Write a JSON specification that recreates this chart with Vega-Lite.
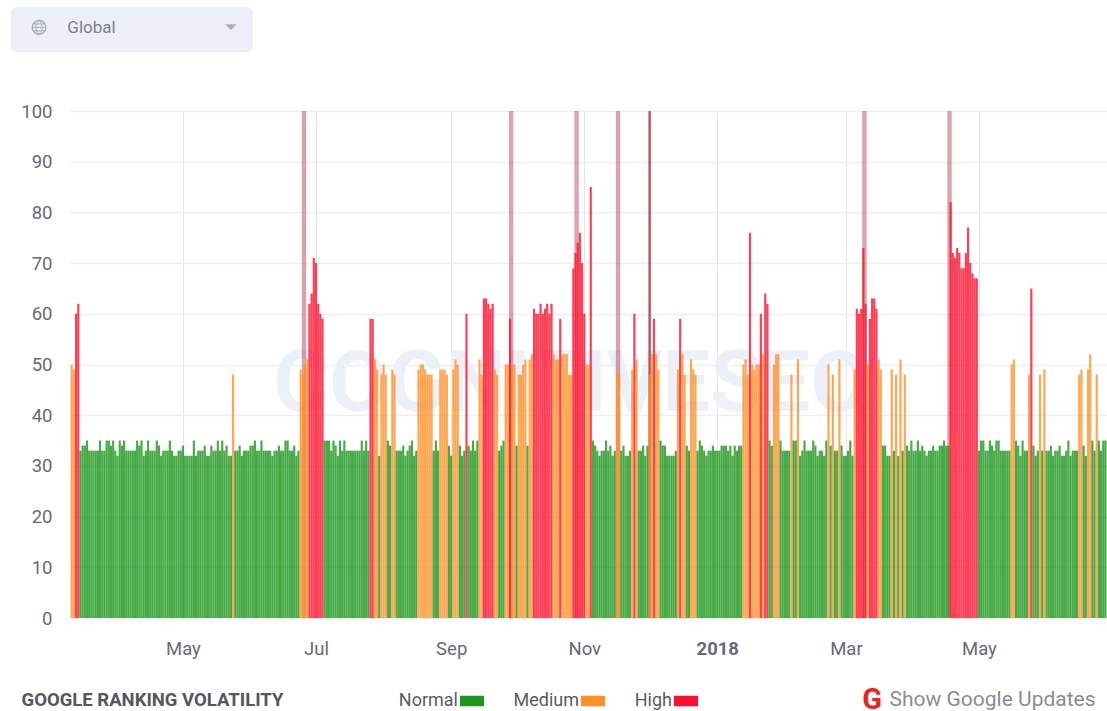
{"$schema":"https://vega.github.io/schema/vega-lite/v6.json","autosize":"none","padding":{"left":70,"top":111,"right":0,"bottom":93},"width":1037,"height":507,"background":"white",
"config":{"view":{"stroke":null},"font":"Roboto"},
"datasets":{
"updates":[{"d":"2017-06-25","v":100},{"d":"2017-06-26","v":100},{"d":"2017-09-28","v":100},{"d":"2017-09-29","v":100},{"d":"2017-10-28","v":100},{"d":"2017-10-29","v":100},{"d":"2017-11-16","v":100},{"d":"2017-11-17","v":100},{"d":"2017-12-01","v":100},{"d":"2017-12-01","v":100},{"d":"2017-12-01","v":100},{"d":"2018-03-09","v":100},{"d":"2018-03-10","v":100},{"d":"2018-04-17","v":100},{"d":"2018-04-18","v":100}],
"days":[
{"d":"2017-03-11","v":50,"l":"Medium"},{"d":"2017-03-12","v":49,"l":"Medium"},{"d":"2017-03-13","v":60,"l":"High"},{"d":"2017-03-14","v":62,"l":"High"},{"d":"2017-03-15","v":33,"l":"Normal"},{"d":"2017-03-16","v":34,"l":"Normal"},{"d":"2017-03-17","v":34,"l":"Normal"},{"d":"2017-03-18","v":35,"l":"Normal"},{"d":"2017-03-19","v":33,"l":"Normal"},{"d":"2017-03-20","v":33,"l":"Normal"},{"d":"2017-03-21","v":33,"l":"Normal"},{"d":"2017-03-22","v":33,"l":"Normal"},{"d":"2017-03-23","v":33,"l":"Normal"},{"d":"2017-03-24","v":35,"l":"Normal"},{"d":"2017-03-25","v":33,"l":"Normal"},{"d":"2017-03-26","v":33,"l":"Normal"},{"d":"2017-03-27","v":35,"l":"Normal"},{"d":"2017-03-28","v":35,"l":"Normal"},{"d":"2017-03-29","v":34,"l":"Normal"},{"d":"2017-03-30","v":35,"l":"Normal"},{"d":"2017-03-31","v":33,"l":"Normal"},
{"d":"2017-04-01","v":32,"l":"Normal"},{"d":"2017-04-02","v":35,"l":"Normal"},{"d":"2017-04-03","v":34,"l":"Normal"},{"d":"2017-04-04","v":35,"l":"Normal"},{"d":"2017-04-05","v":33,"l":"Normal"},{"d":"2017-04-06","v":33,"l":"Normal"},{"d":"2017-04-07","v":33,"l":"Normal"},{"d":"2017-04-08","v":33,"l":"Normal"},{"d":"2017-04-09","v":33,"l":"Normal"},{"d":"2017-04-10","v":35,"l":"Normal"},{"d":"2017-04-11","v":34,"l":"Normal"},{"d":"2017-04-12","v":35,"l":"Normal"},{"d":"2017-04-13","v":32,"l":"Normal"},{"d":"2017-04-14","v":33,"l":"Normal"},{"d":"2017-04-15","v":35,"l":"Normal"},{"d":"2017-04-16","v":33,"l":"Normal"},{"d":"2017-04-17","v":33,"l":"Normal"},{"d":"2017-04-18","v":33,"l":"Normal"},{"d":"2017-04-19","v":35,"l":"Normal"},{"d":"2017-04-20","v":34,"l":"Normal"},{"d":"2017-04-21","v":32,"l":"Normal"},{"d":"2017-04-22","v":33,"l":"Normal"},{"d":"2017-04-23","v":33,"l":"Normal"},{"d":"2017-04-24","v":33,"l":"Normal"},{"d":"2017-04-25","v":35,"l":"Normal"},{"d":"2017-04-26","v":33,"l":"Normal"},{"d":"2017-04-27","v":32,"l":"Normal"},{"d":"2017-04-28","v":32,"l":"Normal"},{"d":"2017-04-29","v":33,"l":"Normal"},{"d":"2017-04-30","v":33,"l":"Normal"},
{"d":"2017-05-01","v":34,"l":"Normal"},{"d":"2017-05-02","v":32,"l":"Normal"},{"d":"2017-05-03","v":32,"l":"Normal"},{"d":"2017-05-04","v":32,"l":"Normal"},{"d":"2017-05-05","v":32,"l":"Normal"},{"d":"2017-05-06","v":35,"l":"Normal"},{"d":"2017-05-07","v":32,"l":"Normal"},{"d":"2017-05-08","v":33,"l":"Normal"},{"d":"2017-05-09","v":33,"l":"Normal"},{"d":"2017-05-10","v":33,"l":"Normal"},{"d":"2017-05-11","v":34,"l":"Normal"},{"d":"2017-05-12","v":32,"l":"Normal"},{"d":"2017-05-13","v":32,"l":"Normal"},{"d":"2017-05-14","v":34,"l":"Normal"},{"d":"2017-05-15","v":33,"l":"Normal"},{"d":"2017-05-16","v":33,"l":"Normal"},{"d":"2017-05-17","v":35,"l":"Normal"},{"d":"2017-05-18","v":33,"l":"Normal"},{"d":"2017-05-19","v":35,"l":"Normal"},{"d":"2017-05-20","v":33,"l":"Normal"},{"d":"2017-05-21","v":34,"l":"Normal"},{"d":"2017-05-22","v":32,"l":"Normal"},{"d":"2017-05-23","v":32,"l":"Normal"},{"d":"2017-05-24","v":48,"l":"Medium"},{"d":"2017-05-25","v":33,"l":"Normal"},{"d":"2017-05-26","v":33,"l":"Normal"},{"d":"2017-05-27","v":34,"l":"Normal"},{"d":"2017-05-28","v":32,"l":"Normal"},{"d":"2017-05-29","v":33,"l":"Normal"},{"d":"2017-05-30","v":33,"l":"Normal"},{"d":"2017-05-31","v":33,"l":"Normal"},
{"d":"2017-06-01","v":34,"l":"Normal"},{"d":"2017-06-02","v":34,"l":"Normal"},{"d":"2017-06-03","v":35,"l":"Normal"},{"d":"2017-06-04","v":33,"l":"Normal"},{"d":"2017-06-05","v":33,"l":"Normal"},{"d":"2017-06-06","v":35,"l":"Normal"},{"d":"2017-06-07","v":33,"l":"Normal"},{"d":"2017-06-08","v":33,"l":"Normal"},{"d":"2017-06-09","v":33,"l":"Normal"},{"d":"2017-06-10","v":33,"l":"Normal"},{"d":"2017-06-11","v":32,"l":"Normal"},{"d":"2017-06-12","v":33,"l":"Normal"},{"d":"2017-06-13","v":33,"l":"Normal"},{"d":"2017-06-14","v":34,"l":"Normal"},{"d":"2017-06-15","v":33,"l":"Normal"},{"d":"2017-06-16","v":33,"l":"Normal"},{"d":"2017-06-17","v":35,"l":"Normal"},{"d":"2017-06-18","v":35,"l":"Normal"},{"d":"2017-06-19","v":33,"l":"Normal"},{"d":"2017-06-20","v":33,"l":"Normal"},{"d":"2017-06-21","v":34,"l":"Normal"},{"d":"2017-06-22","v":32,"l":"Normal"},{"d":"2017-06-23","v":33,"l":"Normal"},{"d":"2017-06-24","v":49,"l":"Medium"},{"d":"2017-06-25","v":48,"l":"Medium"},{"d":"2017-06-26","v":50,"l":"Medium"},{"d":"2017-06-27","v":51,"l":"Medium"},{"d":"2017-06-28","v":62,"l":"High"},{"d":"2017-06-29","v":64,"l":"High"},{"d":"2017-06-30","v":71,"l":"High"},
{"d":"2017-07-01","v":70,"l":"High"},{"d":"2017-07-02","v":62,"l":"High"},{"d":"2017-07-03","v":60,"l":"High"},{"d":"2017-07-04","v":59,"l":"High"},{"d":"2017-07-05","v":35,"l":"Normal"},{"d":"2017-07-06","v":35,"l":"Normal"},{"d":"2017-07-07","v":35,"l":"Normal"},{"d":"2017-07-08","v":33,"l":"Normal"},{"d":"2017-07-09","v":35,"l":"Normal"},{"d":"2017-07-10","v":34,"l":"Normal"},{"d":"2017-07-11","v":32,"l":"Normal"},{"d":"2017-07-12","v":35,"l":"Normal"},{"d":"2017-07-13","v":33,"l":"Normal"},{"d":"2017-07-14","v":35,"l":"Normal"},{"d":"2017-07-15","v":33,"l":"Normal"},{"d":"2017-07-16","v":33,"l":"Normal"},{"d":"2017-07-17","v":33,"l":"Normal"},{"d":"2017-07-18","v":33,"l":"Normal"},{"d":"2017-07-19","v":33,"l":"Normal"},{"d":"2017-07-20","v":33,"l":"Normal"},{"d":"2017-07-21","v":33,"l":"Normal"},{"d":"2017-07-22","v":35,"l":"Normal"},{"d":"2017-07-23","v":33,"l":"Normal"},{"d":"2017-07-24","v":35,"l":"Normal"},{"d":"2017-07-25","v":33,"l":"Normal"},{"d":"2017-07-26","v":59,"l":"High"},{"d":"2017-07-27","v":59,"l":"High"},{"d":"2017-07-28","v":51,"l":"Medium"},{"d":"2017-07-29","v":49,"l":"Medium"},{"d":"2017-07-30","v":32,"l":"Normal"},{"d":"2017-07-31","v":48,"l":"Medium"},
{"d":"2017-08-01","v":50,"l":"Medium"},{"d":"2017-08-02","v":48,"l":"Medium"},{"d":"2017-08-03","v":35,"l":"Normal"},{"d":"2017-08-04","v":34,"l":"Normal"},{"d":"2017-08-05","v":49,"l":"Medium"},{"d":"2017-08-06","v":48,"l":"Medium"},{"d":"2017-08-07","v":33,"l":"Normal"},{"d":"2017-08-08","v":33,"l":"Normal"},{"d":"2017-08-09","v":33,"l":"Normal"},{"d":"2017-08-10","v":34,"l":"Normal"},{"d":"2017-08-11","v":32,"l":"Normal"},{"d":"2017-08-12","v":33,"l":"Normal"},{"d":"2017-08-13","v":34,"l":"Normal"},{"d":"2017-08-14","v":35,"l":"Normal"},{"d":"2017-08-15","v":32,"l":"Normal"},{"d":"2017-08-16","v":33,"l":"Normal"},{"d":"2017-08-17","v":49,"l":"Medium"},{"d":"2017-08-18","v":50,"l":"Medium"},{"d":"2017-08-19","v":50,"l":"Medium"},{"d":"2017-08-20","v":49,"l":"Medium"},{"d":"2017-08-21","v":48,"l":"Medium"},{"d":"2017-08-22","v":48,"l":"Medium"},{"d":"2017-08-23","v":48,"l":"Medium"},{"d":"2017-08-24","v":33,"l":"Normal"},{"d":"2017-08-25","v":35,"l":"Normal"},{"d":"2017-08-26","v":33,"l":"Normal"},{"d":"2017-08-27","v":49,"l":"Medium"},{"d":"2017-08-28","v":49,"l":"Medium"},{"d":"2017-08-29","v":49,"l":"Medium"},{"d":"2017-08-30","v":48,"l":"Medium"},{"d":"2017-08-31","v":34,"l":"Normal"},
{"d":"2017-09-01","v":32,"l":"Normal"},{"d":"2017-09-02","v":49,"l":"Medium"},{"d":"2017-09-03","v":51,"l":"Medium"},{"d":"2017-09-04","v":50,"l":"Medium"},{"d":"2017-09-05","v":34,"l":"Normal"},{"d":"2017-09-06","v":32,"l":"Normal"},{"d":"2017-09-07","v":33,"l":"Normal"},{"d":"2017-09-08","v":60,"l":"High"},{"d":"2017-09-09","v":34,"l":"Normal"},{"d":"2017-09-10","v":33,"l":"Normal"},{"d":"2017-09-11","v":35,"l":"Normal"},{"d":"2017-09-12","v":33,"l":"Normal"},{"d":"2017-09-13","v":35,"l":"Normal"},{"d":"2017-09-14","v":51,"l":"Medium"},{"d":"2017-09-15","v":48,"l":"Medium"},{"d":"2017-09-16","v":63,"l":"High"},{"d":"2017-09-17","v":63,"l":"High"},{"d":"2017-09-18","v":62,"l":"High"},{"d":"2017-09-19","v":61,"l":"High"},{"d":"2017-09-20","v":62,"l":"High"},{"d":"2017-09-21","v":49,"l":"Medium"},{"d":"2017-09-22","v":48,"l":"Medium"},{"d":"2017-09-23","v":33,"l":"Normal"},{"d":"2017-09-24","v":34,"l":"Normal"},{"d":"2017-09-25","v":35,"l":"Normal"},{"d":"2017-09-26","v":50,"l":"Medium"},{"d":"2017-09-27","v":50,"l":"Medium"},{"d":"2017-09-28","v":59,"l":"High"},{"d":"2017-09-29","v":50,"l":"Medium"},{"d":"2017-09-30","v":50,"l":"Medium"},
{"d":"2017-10-01","v":34,"l":"Normal"},{"d":"2017-10-02","v":48,"l":"Medium"},{"d":"2017-10-03","v":48,"l":"Medium"},{"d":"2017-10-04","v":50,"l":"Medium"},{"d":"2017-10-05","v":51,"l":"Medium"},{"d":"2017-10-06","v":34,"l":"Normal"},{"d":"2017-10-07","v":51,"l":"Medium"},{"d":"2017-10-08","v":52,"l":"Medium"},{"d":"2017-10-09","v":61,"l":"High"},{"d":"2017-10-10","v":60,"l":"High"},{"d":"2017-10-11","v":60,"l":"High"},{"d":"2017-10-12","v":62,"l":"High"},{"d":"2017-10-13","v":60,"l":"High"},{"d":"2017-10-14","v":61,"l":"High"},{"d":"2017-10-15","v":62,"l":"High"},{"d":"2017-10-16","v":60,"l":"High"},{"d":"2017-10-17","v":62,"l":"High"},{"d":"2017-10-18","v":52,"l":"Medium"},{"d":"2017-10-19","v":51,"l":"Medium"},{"d":"2017-10-20","v":51,"l":"Medium"},{"d":"2017-10-21","v":59,"l":"High"},{"d":"2017-10-22","v":52,"l":"Medium"},{"d":"2017-10-23","v":52,"l":"Medium"},{"d":"2017-10-24","v":52,"l":"Medium"},{"d":"2017-10-25","v":48,"l":"Medium"},{"d":"2017-10-26","v":48,"l":"Medium"},{"d":"2017-10-27","v":69,"l":"High"},{"d":"2017-10-28","v":72,"l":"High"},{"d":"2017-10-29","v":74,"l":"High"},{"d":"2017-10-30","v":76,"l":"High"},{"d":"2017-10-31","v":70,"l":"High"},
{"d":"2017-11-01","v":60,"l":"High"},{"d":"2017-11-02","v":50,"l":"Medium"},{"d":"2017-11-03","v":50,"l":"Medium"},{"d":"2017-11-04","v":85,"l":"High"},{"d":"2017-11-05","v":35,"l":"Normal"},{"d":"2017-11-06","v":34,"l":"Normal"},{"d":"2017-11-07","v":33,"l":"Normal"},{"d":"2017-11-08","v":32,"l":"Normal"},{"d":"2017-11-09","v":33,"l":"Normal"},{"d":"2017-11-10","v":33,"l":"Normal"},{"d":"2017-11-11","v":35,"l":"Normal"},{"d":"2017-11-12","v":33,"l":"Normal"},{"d":"2017-11-13","v":34,"l":"Normal"},{"d":"2017-11-14","v":32,"l":"Normal"},{"d":"2017-11-15","v":33,"l":"Normal"},{"d":"2017-11-16","v":48,"l":"Medium"},{"d":"2017-11-17","v":48,"l":"Medium"},{"d":"2017-11-18","v":33,"l":"Normal"},{"d":"2017-11-19","v":34,"l":"Normal"},{"d":"2017-11-20","v":32,"l":"Normal"},{"d":"2017-11-21","v":32,"l":"Normal"},{"d":"2017-11-22","v":33,"l":"Normal"},{"d":"2017-11-23","v":49,"l":"Medium"},{"d":"2017-11-24","v":60,"l":"High"},{"d":"2017-11-25","v":51,"l":"Medium"},{"d":"2017-11-26","v":33,"l":"Normal"},{"d":"2017-11-27","v":33,"l":"Normal"},{"d":"2017-11-28","v":34,"l":"Normal"},{"d":"2017-11-29","v":32,"l":"Normal"},{"d":"2017-11-30","v":34,"l":"Normal"},
{"d":"2017-12-01","v":48,"l":"Medium"},{"d":"2017-12-02","v":52,"l":"Medium"},{"d":"2017-12-03","v":59,"l":"High"},{"d":"2017-12-04","v":52,"l":"Medium"},{"d":"2017-12-05","v":49,"l":"Medium"},{"d":"2017-12-06","v":35,"l":"Normal"},{"d":"2017-12-07","v":34,"l":"Normal"},{"d":"2017-12-08","v":34,"l":"Normal"},{"d":"2017-12-09","v":32,"l":"Normal"},{"d":"2017-12-10","v":32,"l":"Normal"},{"d":"2017-12-11","v":32,"l":"Normal"},{"d":"2017-12-12","v":32,"l":"Normal"},{"d":"2017-12-13","v":33,"l":"Normal"},{"d":"2017-12-14","v":49,"l":"Medium"},{"d":"2017-12-15","v":59,"l":"High"},{"d":"2017-12-16","v":52,"l":"Medium"},{"d":"2017-12-17","v":48,"l":"Medium"},{"d":"2017-12-18","v":34,"l":"Normal"},{"d":"2017-12-19","v":33,"l":"Normal"},{"d":"2017-12-20","v":51,"l":"Medium"},{"d":"2017-12-21","v":49,"l":"Medium"},{"d":"2017-12-22","v":48,"l":"Medium"},{"d":"2017-12-23","v":33,"l":"Normal"},{"d":"2017-12-24","v":35,"l":"Normal"},{"d":"2017-12-25","v":34,"l":"Normal"},{"d":"2017-12-26","v":33,"l":"Normal"},{"d":"2017-12-27","v":32,"l":"Normal"},{"d":"2017-12-28","v":33,"l":"Normal"},{"d":"2017-12-29","v":33,"l":"Normal"},{"d":"2017-12-30","v":34,"l":"Normal"},{"d":"2017-12-31","v":33,"l":"Normal"},
{"d":"2018-01-01","v":33,"l":"Normal"},{"d":"2018-01-02","v":33,"l":"Normal"},{"d":"2018-01-03","v":34,"l":"Normal"},{"d":"2018-01-04","v":34,"l":"Normal"},{"d":"2018-01-05","v":34,"l":"Normal"},{"d":"2018-01-06","v":33,"l":"Normal"},{"d":"2018-01-07","v":34,"l":"Normal"},{"d":"2018-01-08","v":32,"l":"Normal"},{"d":"2018-01-09","v":34,"l":"Normal"},{"d":"2018-01-10","v":33,"l":"Normal"},{"d":"2018-01-11","v":34,"l":"Normal"},{"d":"2018-01-12","v":34,"l":"Normal"},{"d":"2018-01-13","v":50,"l":"Medium"},{"d":"2018-01-14","v":51,"l":"Medium"},{"d":"2018-01-15","v":48,"l":"Medium"},{"d":"2018-01-16","v":76,"l":"High"},{"d":"2018-01-17","v":50,"l":"Medium"},{"d":"2018-01-18","v":49,"l":"Medium"},{"d":"2018-01-19","v":50,"l":"Medium"},{"d":"2018-01-20","v":50,"l":"Medium"},{"d":"2018-01-21","v":60,"l":"High"},{"d":"2018-01-22","v":52,"l":"Medium"},{"d":"2018-01-23","v":64,"l":"High"},{"d":"2018-01-24","v":62,"l":"High"},{"d":"2018-01-25","v":35,"l":"Normal"},{"d":"2018-01-26","v":34,"l":"Normal"},{"d":"2018-01-27","v":50,"l":"Medium"},{"d":"2018-01-28","v":52,"l":"Medium"},{"d":"2018-01-29","v":52,"l":"Medium"},{"d":"2018-01-30","v":35,"l":"Normal"},{"d":"2018-01-31","v":33,"l":"Normal"},
{"d":"2018-02-01","v":33,"l":"Normal"},{"d":"2018-02-02","v":33,"l":"Normal"},{"d":"2018-02-03","v":33,"l":"Normal"},{"d":"2018-02-04","v":48,"l":"Medium"},{"d":"2018-02-05","v":35,"l":"Normal"},{"d":"2018-02-06","v":35,"l":"Normal"},{"d":"2018-02-07","v":51,"l":"Medium"},{"d":"2018-02-08","v":32,"l":"Normal"},{"d":"2018-02-09","v":33,"l":"Normal"},{"d":"2018-02-10","v":35,"l":"Normal"},{"d":"2018-02-11","v":33,"l":"Normal"},{"d":"2018-02-12","v":33,"l":"Normal"},{"d":"2018-02-13","v":33,"l":"Normal"},{"d":"2018-02-14","v":35,"l":"Normal"},{"d":"2018-02-15","v":34,"l":"Normal"},{"d":"2018-02-16","v":32,"l":"Normal"},{"d":"2018-02-17","v":33,"l":"Normal"},{"d":"2018-02-18","v":33,"l":"Normal"},{"d":"2018-02-19","v":32,"l":"Normal"},{"d":"2018-02-20","v":35,"l":"Normal"},{"d":"2018-02-21","v":50,"l":"Medium"},{"d":"2018-02-22","v":34,"l":"Normal"},{"d":"2018-02-23","v":48,"l":"Medium"},{"d":"2018-02-24","v":33,"l":"Normal"},{"d":"2018-02-25","v":33,"l":"Normal"},{"d":"2018-02-26","v":51,"l":"Medium"},{"d":"2018-02-27","v":34,"l":"Normal"},{"d":"2018-02-28","v":32,"l":"Normal"},
{"d":"2018-03-01","v":32,"l":"Normal"},{"d":"2018-03-02","v":33,"l":"Normal"},{"d":"2018-03-03","v":35,"l":"Normal"},{"d":"2018-03-04","v":32,"l":"Normal"},{"d":"2018-03-05","v":49,"l":"Medium"},{"d":"2018-03-06","v":61,"l":"High"},{"d":"2018-03-07","v":60,"l":"High"},{"d":"2018-03-08","v":61,"l":"High"},{"d":"2018-03-09","v":73,"l":"High"},{"d":"2018-03-10","v":62,"l":"High"},{"d":"2018-03-11","v":50,"l":"Medium"},{"d":"2018-03-12","v":59,"l":"High"},{"d":"2018-03-13","v":63,"l":"High"},{"d":"2018-03-14","v":63,"l":"High"},{"d":"2018-03-15","v":61,"l":"High"},{"d":"2018-03-16","v":51,"l":"Medium"},{"d":"2018-03-17","v":49,"l":"Medium"},{"d":"2018-03-18","v":34,"l":"Normal"},{"d":"2018-03-19","v":34,"l":"Normal"},{"d":"2018-03-20","v":32,"l":"Normal"},{"d":"2018-03-21","v":32,"l":"Normal"},{"d":"2018-03-22","v":49,"l":"Medium"},{"d":"2018-03-23","v":33,"l":"Normal"},{"d":"2018-03-24","v":48,"l":"Medium"},{"d":"2018-03-25","v":32,"l":"Normal"},{"d":"2018-03-26","v":51,"l":"Medium"},{"d":"2018-03-27","v":33,"l":"Normal"},{"d":"2018-03-28","v":48,"l":"Medium"},{"d":"2018-03-29","v":34,"l":"Normal"},{"d":"2018-03-30","v":33,"l":"Normal"},{"d":"2018-03-31","v":35,"l":"Normal"},
{"d":"2018-04-01","v":33,"l":"Normal"},{"d":"2018-04-02","v":33,"l":"Normal"},{"d":"2018-04-03","v":35,"l":"Normal"},{"d":"2018-04-04","v":33,"l":"Normal"},{"d":"2018-04-05","v":34,"l":"Normal"},{"d":"2018-04-06","v":33,"l":"Normal"},{"d":"2018-04-07","v":32,"l":"Normal"},{"d":"2018-04-08","v":33,"l":"Normal"},{"d":"2018-04-09","v":33,"l":"Normal"},{"d":"2018-04-10","v":34,"l":"Normal"},{"d":"2018-04-11","v":33,"l":"Normal"},{"d":"2018-04-12","v":33,"l":"Normal"},{"d":"2018-04-13","v":34,"l":"Normal"},{"d":"2018-04-14","v":34,"l":"Normal"},{"d":"2018-04-15","v":35,"l":"Normal"},{"d":"2018-04-16","v":34,"l":"Normal"},{"d":"2018-04-17","v":34,"l":"Normal"},{"d":"2018-04-18","v":82,"l":"High"},{"d":"2018-04-19","v":72,"l":"High"},{"d":"2018-04-20","v":71,"l":"High"},{"d":"2018-04-21","v":73,"l":"High"},{"d":"2018-04-22","v":72,"l":"High"},{"d":"2018-04-23","v":69,"l":"High"},{"d":"2018-04-24","v":69,"l":"High"},{"d":"2018-04-25","v":72,"l":"High"},{"d":"2018-04-26","v":77,"l":"High"},{"d":"2018-04-27","v":70,"l":"High"},{"d":"2018-04-28","v":68,"l":"High"},{"d":"2018-04-29","v":67,"l":"High"},{"d":"2018-04-30","v":67,"l":"High"},
{"d":"2018-05-01","v":33,"l":"Normal"},{"d":"2018-05-02","v":35,"l":"Normal"},{"d":"2018-05-03","v":35,"l":"Normal"},{"d":"2018-05-04","v":33,"l":"Normal"},{"d":"2018-05-05","v":33,"l":"Normal"},{"d":"2018-05-06","v":35,"l":"Normal"},{"d":"2018-05-07","v":34,"l":"Normal"},{"d":"2018-05-08","v":33,"l":"Normal"},{"d":"2018-05-09","v":35,"l":"Normal"},{"d":"2018-05-10","v":35,"l":"Normal"},{"d":"2018-05-11","v":33,"l":"Normal"},{"d":"2018-05-12","v":33,"l":"Normal"},{"d":"2018-05-13","v":33,"l":"Normal"},{"d":"2018-05-14","v":33,"l":"Normal"},{"d":"2018-05-15","v":33,"l":"Normal"},{"d":"2018-05-16","v":50,"l":"Medium"},{"d":"2018-05-17","v":51,"l":"Medium"},{"d":"2018-05-18","v":35,"l":"Normal"},{"d":"2018-05-19","v":34,"l":"Normal"},{"d":"2018-05-20","v":32,"l":"Normal"},{"d":"2018-05-21","v":35,"l":"Normal"},{"d":"2018-05-22","v":33,"l":"Normal"},{"d":"2018-05-23","v":33,"l":"Normal"},{"d":"2018-05-24","v":48,"l":"Medium"},{"d":"2018-05-25","v":65,"l":"High"},{"d":"2018-05-26","v":34,"l":"Normal"},{"d":"2018-05-27","v":32,"l":"Normal"},{"d":"2018-05-28","v":33,"l":"Normal"},{"d":"2018-05-29","v":48,"l":"Medium"},{"d":"2018-05-30","v":33,"l":"Normal"},{"d":"2018-05-31","v":49,"l":"Medium"},
{"d":"2018-06-01","v":33,"l":"Normal"},{"d":"2018-06-02","v":33,"l":"Normal"},{"d":"2018-06-03","v":34,"l":"Normal"},{"d":"2018-06-04","v":32,"l":"Normal"},{"d":"2018-06-05","v":33,"l":"Normal"},{"d":"2018-06-06","v":33,"l":"Normal"},{"d":"2018-06-07","v":34,"l":"Normal"},{"d":"2018-06-08","v":32,"l":"Normal"},{"d":"2018-06-09","v":32,"l":"Normal"},{"d":"2018-06-10","v":33,"l":"Normal"},{"d":"2018-06-11","v":35,"l":"Normal"},{"d":"2018-06-12","v":32,"l":"Normal"},{"d":"2018-06-13","v":33,"l":"Normal"},{"d":"2018-06-14","v":33,"l":"Normal"},{"d":"2018-06-15","v":33,"l":"Normal"},{"d":"2018-06-16","v":48,"l":"Medium"},{"d":"2018-06-17","v":49,"l":"Medium"},{"d":"2018-06-18","v":34,"l":"Normal"},{"d":"2018-06-19","v":32,"l":"Normal"},{"d":"2018-06-20","v":49,"l":"Medium"},{"d":"2018-06-21","v":52,"l":"Medium"},{"d":"2018-06-22","v":35,"l":"Normal"},{"d":"2018-06-23","v":33,"l":"Normal"},{"d":"2018-06-24","v":48,"l":"Medium"},{"d":"2018-06-25","v":35,"l":"Normal"},{"d":"2018-06-26","v":33,"l":"Normal"},{"d":"2018-06-27","v":35,"l":"Normal"},{"d":"2018-06-28","v":35,"l":"Normal"}
]},
"encoding":{
"x":{"field":"d","type":"temporal","title":null,"scale":{"type":"utc","nice":false,"padding":0,"domain":[{"year":2017,"month":"mar","date":10,"hours":5,"utc":true},{"year":2018,"month":"jun","date":28,"hours":17,"utc":true}]},
"axis":{"values":[{"year":2017,"month":"may","date":1,"utc":true},{"year":2017,"month":"jul","date":1,"utc":true},{"year":2017,"month":"sep","date":1,"utc":true},{"year":2017,"month":"nov","date":1,"utc":true},{"year":2018,"month":"jan","date":1,"utc":true},{"year":2018,"month":"mar","date":1,"utc":true},{"year":2018,"month":"may","date":1,"utc":true}],
"labelExpr":"utcmonth(datum.value)==0 ? '2018' : utcFormat(datum.value,'%b')","labelFontWeight":{"condition":{"test":"utcmonth(datum.value)==0","value":"bold"},"value":"normal"},"labelFontSize":18.5,"labelColor":"#66697a","labelPadding":21,"tickSize":0,"domain":false,"grid":true,"gridColor":"#e4e5ec","gridWidth":1,"labelFlush":false}},
"y":{"field":"v","type":"quantitative","title":null,"stack":null,"scale":{"domain":[0,100],"nice":false},"axis":{"values":[0,10,20,30,40,50,60,70,80,90,100],"labelFontSize":18.5,"labelColor":"#66697a","labelPadding":18,"tickSize":0,"domain":false,"grid":true,"gridColor":"#eeeef1","gridWidth":1.5}}},
"layer":[
{"data":{"values":[{"d":"2017-10-26","v":46,"t":"COGNITIVESEO"}]},"mark":{"type":"text","fontSize":85,"font":"Roboto","fontWeight":"bold","color":"#ecf0f8","align":"center","baseline":"middle"},"encoding":{"text":{"field":"t"}}},
{"data":{"name":"updates"},"mark":{"type":"bar","size":2.2,"color":"#b03040","opacity":0.45}},
{"data":{"name":"days"},"mark":{"type":"bar","size":2.18,"opacity":0.8},"encoding":{"color":{"field":"l","type":"nominal","scale":{"domain":["Normal","Medium","High"],"range":["#1a961a","#ff9026","#ff0f2d"]},"legend":{"title":null,"orient":"none","legendX":393,"legendY":581,"direction":"horizontal","columns":3,"symbolType":"M-2.3,-1H2.3V1H-2.3Z","symbolSize":110,"symbolOpacity":1,"symbolStrokeWidth":0,"labelFontSize":18,"labelColor":"#5a5a66","labelAlign":"right","labelOffset":-23,"columnPadding":28}}}},
{"data":{"values":[{"d":"2017-02-11","d2":"2017-06-02","v":120.5,"v2":111.6}]},"mark":{"type":"rect","color":"#eceff7","cornerRadius":6},"encoding":{"x2":{"field":"d2"},"y2":{"field":"v2"}}},
{"data":{"values":[{"d":"2017-03-09","v":116.3,"t":"Global"}]},"mark":{"type":"text","fontSize":17,"color":"#7b7f94","align":"left","baseline":"middle"},"encoding":{"text":{"field":"t"}}},
{"data":{"values":[{"d":"2017-02-24","v":116.5}]},"mark":{"type":"point","shape":"circle","size":190,"filled":false,"color":"#8f92a3","strokeWidth":1.3},"encoding":{}},
{"data":{"values":[{"d":"2017-02-24","v":116.5}]},"mark":{"type":"point","shape":"M0,-1C-0.6,-0.5,-0.6,0.5,0,1M0,-1C0.6,-0.5,0.6,0.5,0,1M-1,0H1M-0.85,-0.5H0.85M-0.85,0.5H0.85","size":190,"filled":false,"color":"#8f92a3","strokeWidth":1},"encoding":{}},
{"data":{"values":[{"d":"2017-05-23","v":116.5}]},"mark":{"type":"point","shape":"M-1,-0.55H1L0,0.55Z","size":121,"filled":true,"color":"#8f92a3"},"encoding":{}},
{"data":{"values":[{"d":"2017-02-16","v":-16.2,"t":"GOOGLE RANKING VOLATILITY"}]},"mark":{"type":"text","fontSize":18.5,"fontWeight":"bold","color":"#55565f","align":"left","baseline":"middle"},"encoding":{"text":{"field":"t"}}},
{"data":{"values":[{"d":"2018-03-13","v":-16.2,"t":"G"}]},"mark":{"type":"text","fontSize":29,"fontWeight":"bold","color":"#f02020","align":"center","baseline":"middle"},"encoding":{"text":{"field":"t"}}},
{"data":{"values":[{"d":"2018-03-21","v":-16.2,"t":"Show Google Updates"}]},"mark":{"type":"text","fontSize":21,"color":"#8a8c96","align":"left","baseline":"middle"},"encoding":{"text":{"field":"t"}}}
]}
